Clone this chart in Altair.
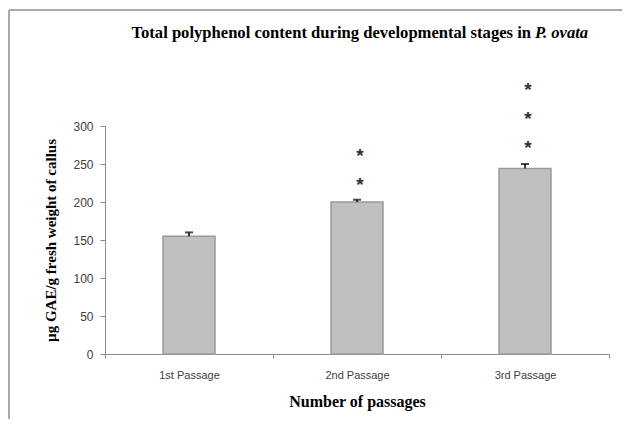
import altair as alt
import pandas as pd

categories = ["1st Passage", "2nd Passage", "3rd Passage"]
values = [155, 200, 244]
errors = [5, 3, 6]
star_categories = ["2nd Passage", "2nd Passage", "3rd Passage", "3rd Passage", "3rd Passage"]
star_values = [226, 264, 275, 313, 351]
y_ticks = [0, 50, 100, 150, 200, 250, 300]

bars_df = pd.DataFrame({"passage": categories, "value": values, "err": errors})
bars_df["top"] = bars_df["value"] + bars_df["err"]
stars_df = pd.DataFrame({"passage": star_categories, "y": star_values})
dummy = pd.DataFrame({"a": [0]})

x_scale = alt.Scale(domain=categories, paddingInner=0, paddingOuter=0)
x_axis = alt.Axis(
    title="Number of passages",
    labelAngle=0,
    tickBand="extent",
    tickSize=4,
    labelPadding=11,
    titlePadding=13,
    titleFontSize=16,
)
x_enc = alt.X("passage:N", sort=categories, scale=x_scale, axis=x_axis)
y_scale = alt.Scale(domain=[0, 300], nice=False)
y_axis = alt.Axis(
    title="µg GAE/g fresh weight of callus",
    values=y_ticks,
    grid=False,
    tickSize=5,
    labelPadding=7,
    labelFontSize=12,
    titlePadding=14,
    titleFontSize=15,
)


def yq(field):
    return alt.Y(field, scale=y_scale, axis=y_axis)


base = alt.Chart(bars_df)
bars = base.mark_bar(width=52, color="#c0c0c0", stroke="#9a9a9a", strokeWidth=1.5).encode(
    x=x_enc, y=yq("value:Q")
)
err_rule = base.mark_rule(color="black", strokeWidth=1.5).encode(
    x=x_enc, y=yq("value:Q"), y2="top:Q"
)
err_cap = base.mark_tick(color="black", thickness=2, size=8, orient="horizontal").encode(
    x=x_enc, y=yq("top:Q")
)
stars = alt.Chart(stars_df).mark_text(
    text="*", font="Liberation Sans", fontSize=19, fontWeight="bold", color="#333333",
    baseline="middle", dy=3, dx=3
).encode(x=x_enc, y=yq("y:Q"))

title_main = alt.Chart(dummy).mark_text(
    text="Total polyphenol content during developmental stages in",
    font="Liberation Serif", fontWeight="bold", fontSize=16.6, align="right", baseline="middle",
    color="black",
).encode(x=alt.value(426), y=alt.value(-93))
title_ital = alt.Chart(dummy).mark_text(
    text="P. ovata",
    font="Liberation Serif", fontWeight="bold", fontStyle="italic", fontSize=16.6, align="left",
    baseline="middle", color="black",
).encode(x=alt.value(430), y=alt.value(-93))

border_top = alt.Chart(dummy).mark_rule(color="#a8a8a8", strokeWidth=2).encode(
    x=alt.value(-96), x2=alt.value(530), y=alt.value(-116)
)
border_left = alt.Chart(dummy).mark_rule(color="#a8a8a8", strokeWidth=2).encode(
    x=alt.value(-96), y=alt.value(-116), y2=alt.value(320)
)

chart = (
    alt.layer(border_top, border_left, bars, err_rule, err_cap, stars, title_main, title_ital)
    .properties(
        width=504,
        height=228,
        autosize=alt.AutoSizeParams(type="none"),
        padding={"left": 97, "top": 118, "right": 13, "bottom": 65},
    )
    .configure_view(strokeWidth=0)
    .configure_axis(
        labelFont="Liberation Sans",
        labelFontSize=11,
        labelColor="#404040",
        domainColor="#8c8c8c",
        tickColor="#8c8c8c",
        titleFont="Liberation Serif",
        titleFontWeight="bold",
        titleColor="black",
    )
)

chart.save("out.html", embed_options={"renderer": "svg", "actions": False})
